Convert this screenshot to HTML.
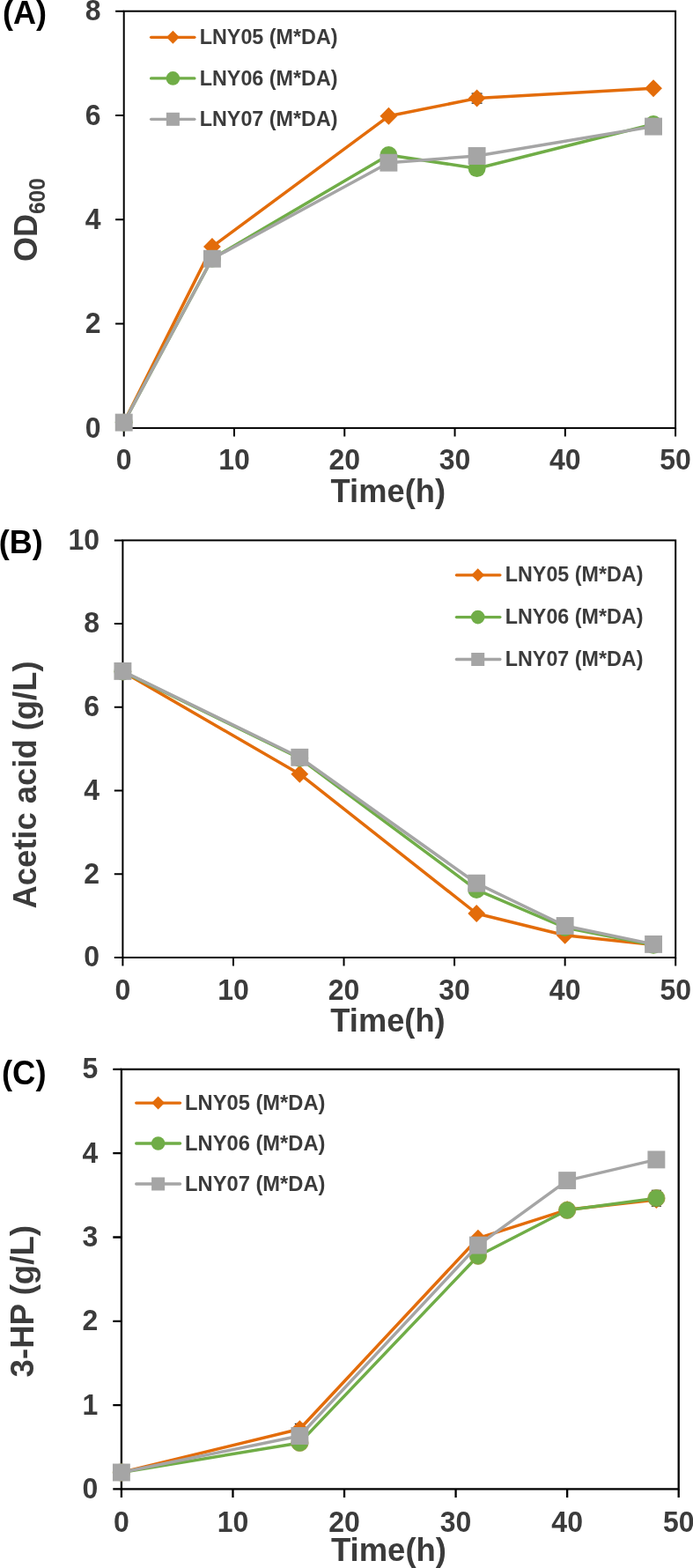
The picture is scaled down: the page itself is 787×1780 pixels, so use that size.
<!DOCTYPE html>
<html lang="en">
<head>
<meta charset="utf-8">
<title>Figure: growth, acetic acid and 3-HP</title>
<style>
html,body{margin:0;padding:0;background:#fff;}
body{width:787px;height:1780px;overflow:hidden;}
svg{display:block;}
svg text{font-family:"Liberation Sans", Arial, Helvetica, sans-serif;font-weight:700;}
</style>
</head>
<body>
<svg width="787" height="1780" viewBox="0 0 787 1780">
<rect width="787" height="1780" fill="#fff"/>
<g>
<rect x="140.70" y="12.70" width="626.40" height="473.20" fill="none" stroke="#000" stroke-width="2.0"/>
<path d="M140.70,485.90V495.50M265.98,485.90V495.50M391.26,485.90V495.50M516.54,485.90V495.50M641.82,485.90V495.50M767.10,485.90V495.50M140.70,485.90H131.10M140.70,367.60H131.10M140.70,249.30H131.10M140.70,131.00H131.10M140.70,12.70H131.10" stroke="#000" stroke-width="2.0" fill="none"/>
<path d="M535.60,106.10H547.60M535.60,117.10H547.60M541.60,106.10V117.10" stroke="#222" stroke-width="1.1" fill="none"/>
<polyline points="140.70,479.60 240.92,280.10 441.37,131.80 541.60,111.60 742.04,100.20" fill="none" stroke="#E36C0A" stroke-width="3.5" stroke-linejoin="round" stroke-linecap="round"/>
<polygon points="140.70,469.60 150.60,479.60 140.70,489.60 130.80,479.60" fill="#E36C0A"/>
<polygon points="240.92,270.10 250.82,280.10 240.92,290.10 231.02,280.10" fill="#E36C0A"/>
<polygon points="441.37,121.80 451.27,131.80 441.37,141.80 431.47,131.80" fill="#E36C0A"/>
<polygon points="541.60,101.60 551.50,111.60 541.60,121.60 531.70,111.60" fill="#E36C0A"/>
<polygon points="742.04,90.20 751.94,100.20 742.04,110.20 732.14,100.20" fill="#E36C0A"/>
<polyline points="140.70,479.60 240.92,293.70 441.37,175.90 541.60,191.20 742.04,141.00" fill="none" stroke="#70AD47" stroke-width="3.5" stroke-linejoin="round" stroke-linecap="round"/>
<circle cx="140.70" cy="479.60" r="9.90" fill="#70AD47"/>
<circle cx="240.92" cy="293.70" r="9.90" fill="#70AD47"/>
<circle cx="441.37" cy="175.90" r="9.90" fill="#70AD47"/>
<circle cx="541.60" cy="191.20" r="9.90" fill="#70AD47"/>
<circle cx="742.04" cy="141.00" r="9.90" fill="#70AD47"/>
<polyline points="140.70,479.60 240.92,293.75 441.37,184.70 541.60,177.00 742.04,143.60" fill="none" stroke="#A5A5A5" stroke-width="3.5" stroke-linejoin="round" stroke-linecap="round"/>
<rect x="130.75" y="469.65" width="19.90" height="19.90" fill="#A5A5A5"/>
<rect x="230.97" y="283.80" width="19.90" height="19.90" fill="#A5A5A5"/>
<rect x="431.42" y="174.75" width="19.90" height="19.90" fill="#A5A5A5"/>
<rect x="531.65" y="167.05" width="19.90" height="19.90" fill="#A5A5A5"/>
<rect x="732.09" y="133.65" width="19.90" height="19.90" fill="#A5A5A5"/>
<rect x="139.40" y="613.40" width="627.80" height="473.60" fill="none" stroke="#000" stroke-width="2.0"/>
<path d="M139.40,1087.00V1096.60M264.96,1087.00V1096.60M390.52,1087.00V1096.60M516.08,1087.00V1096.60M641.64,1087.00V1096.60M767.20,1087.00V1096.60M139.40,1087.00H129.80M139.40,992.28H129.80M139.40,897.56H129.80M139.40,802.84H129.80M139.40,708.12H129.80M139.40,613.40H129.80" stroke="#000" stroke-width="2.0" fill="none"/>
<polyline points="139.40,762.40 340.30,878.70 541.19,1037.00 641.64,1061.80 742.09,1072.60" fill="none" stroke="#E36C0A" stroke-width="3.5" stroke-linejoin="round" stroke-linecap="round"/>
<polygon points="139.40,752.40 149.30,762.40 139.40,772.40 129.50,762.40" fill="#E36C0A"/>
<polygon points="340.30,868.70 350.20,878.70 340.30,888.70 330.40,878.70" fill="#E36C0A"/>
<polygon points="541.19,1027.00 551.09,1037.00 541.19,1047.00 531.29,1037.00" fill="#E36C0A"/>
<polygon points="641.64,1051.80 651.54,1061.80 641.64,1071.80 631.74,1061.80" fill="#E36C0A"/>
<polygon points="742.09,1062.60 751.99,1072.60 742.09,1082.60 732.19,1072.60" fill="#E36C0A"/>
<polyline points="139.40,762.40 340.30,860.80 541.19,1010.10 641.64,1053.00 742.09,1072.90" fill="none" stroke="#70AD47" stroke-width="3.5" stroke-linejoin="round" stroke-linecap="round"/>
<circle cx="139.40" cy="762.40" r="9.90" fill="#70AD47"/>
<circle cx="340.30" cy="860.80" r="9.90" fill="#70AD47"/>
<circle cx="541.19" cy="1010.10" r="9.90" fill="#70AD47"/>
<circle cx="641.64" cy="1053.00" r="9.90" fill="#70AD47"/>
<circle cx="742.09" cy="1072.90" r="9.90" fill="#70AD47"/>
<polyline points="139.40,761.90 340.30,859.80 541.19,1002.70 641.64,1051.00 742.09,1071.90" fill="none" stroke="#A5A5A5" stroke-width="3.5" stroke-linejoin="round" stroke-linecap="round"/>
<rect x="129.45" y="751.95" width="19.90" height="19.90" fill="#A5A5A5"/>
<rect x="330.35" y="849.85" width="19.90" height="19.90" fill="#A5A5A5"/>
<rect x="531.24" y="992.75" width="19.90" height="19.90" fill="#A5A5A5"/>
<rect x="631.69" y="1041.05" width="19.90" height="19.90" fill="#A5A5A5"/>
<rect x="732.14" y="1061.95" width="19.90" height="19.90" fill="#A5A5A5"/>
<rect x="137.90" y="1213.90" width="632.80" height="476.50" fill="none" stroke="#000" stroke-width="2.3"/>
<path d="M137.90,1690.40V1700.00M264.46,1690.40V1700.00M391.02,1690.40V1700.00M517.58,1690.40V1700.00M644.14,1690.40V1700.00M770.70,1690.40V1700.00M137.90,1690.40H128.30M137.90,1595.10H128.30M137.90,1499.80H128.30M137.90,1404.50H128.30M137.90,1309.20H128.30M137.90,1213.90H128.30" stroke="#000" stroke-width="2.3" fill="none"/>
<path d="M334.80,1616.40H346.00M334.80,1628.00H346.00M340.40,1616.40V1628.00" stroke="#222" stroke-width="1.1" fill="none"/>
<polyline points="137.90,1671.50 340.40,1622.20 542.89,1405.70 644.14,1373.30 745.39,1362.00" fill="none" stroke="#E36C0A" stroke-width="3.5" stroke-linejoin="round" stroke-linecap="round"/>
<polygon points="137.90,1661.50 147.80,1671.50 137.90,1681.50 128.00,1671.50" fill="#E36C0A"/>
<polygon points="340.40,1612.20 350.30,1622.20 340.40,1632.20 330.50,1622.20" fill="#E36C0A"/>
<polygon points="542.89,1395.70 552.79,1405.70 542.89,1415.70 532.99,1405.70" fill="#E36C0A"/>
<polygon points="644.14,1363.30 654.04,1373.30 644.14,1383.30 634.24,1373.30" fill="#E36C0A"/>
<polygon points="745.39,1352.00 755.29,1362.00 745.39,1372.00 735.49,1362.00" fill="#E36C0A"/>
<path d="M739.79,1351.20H750.99M739.79,1369.20H750.99M745.39,1351.20V1369.20" stroke="#222" stroke-width="1.1" fill="none"/>
<polyline points="137.90,1671.50 340.40,1637.90 542.89,1425.70 644.14,1373.80 745.39,1360.20" fill="none" stroke="#70AD47" stroke-width="3.5" stroke-linejoin="round" stroke-linecap="round"/>
<circle cx="137.90" cy="1671.50" r="9.70" fill="#70AD47" stroke="#96963A" stroke-width="1" stroke-opacity="0.75"/>
<circle cx="340.40" cy="1637.90" r="9.70" fill="#70AD47" stroke="#96963A" stroke-width="1" stroke-opacity="0.75"/>
<circle cx="542.89" cy="1425.70" r="9.70" fill="#70AD47" stroke="#96963A" stroke-width="1" stroke-opacity="0.75"/>
<circle cx="644.14" cy="1373.80" r="9.70" fill="#70AD47" stroke="#96963A" stroke-width="1" stroke-opacity="0.75"/>
<circle cx="745.39" cy="1360.20" r="9.70" fill="#70AD47" stroke="#96963A" stroke-width="1" stroke-opacity="0.75"/>
<polyline points="137.90,1671.50 340.40,1630.00 542.89,1413.60 644.14,1340.10 745.39,1316.40" fill="none" stroke="#A5A5A5" stroke-width="3.5" stroke-linejoin="round" stroke-linecap="round"/>
<rect x="127.95" y="1661.55" width="19.90" height="19.90" fill="#A5A5A5"/>
<rect x="330.45" y="1620.05" width="19.90" height="19.90" fill="#A5A5A5"/>
<rect x="532.94" y="1403.65" width="19.90" height="19.90" fill="#A5A5A5"/>
<rect x="634.19" y="1330.15" width="19.90" height="19.90" fill="#A5A5A5"/>
<rect x="735.44" y="1306.45" width="19.90" height="19.90" fill="#A5A5A5"/>
</g>
<g>
<text transform="translate(140.70,533.40) scale(1,1.015)" font-size="32" text-anchor="middle" fill="#3b3b3b">0</text>
<text transform="translate(265.98,533.40) scale(1,1.015)" font-size="32" text-anchor="middle" fill="#3b3b3b">10</text>
<text transform="translate(391.26,533.40) scale(1,1.015)" font-size="32" text-anchor="middle" fill="#3b3b3b">20</text>
<text transform="translate(516.54,533.40) scale(1,1.015)" font-size="32" text-anchor="middle" fill="#3b3b3b">30</text>
<text transform="translate(641.82,533.40) scale(1,1.015)" font-size="32" text-anchor="middle" fill="#3b3b3b">40</text>
<text transform="translate(767.10,533.40) scale(1,1.015)" font-size="32" text-anchor="middle" fill="#3b3b3b">50</text>
<text transform="translate(114.60,496.50) scale(1,1.015)" font-size="32" text-anchor="end" fill="#3b3b3b">0</text>
<text transform="translate(114.60,378.20) scale(1,1.015)" font-size="32" text-anchor="end" fill="#3b3b3b">2</text>
<text transform="translate(114.60,259.90) scale(1,1.015)" font-size="32" text-anchor="end" fill="#3b3b3b">4</text>
<text transform="translate(114.60,141.60) scale(1,1.015)" font-size="32" text-anchor="end" fill="#3b3b3b">6</text>
<text transform="translate(114.60,23.30) scale(1,1.015)" font-size="32" text-anchor="end" fill="#3b3b3b">8</text>
<text transform="translate(139.40,1134.50) scale(1,1.015)" font-size="32" text-anchor="middle" fill="#3b3b3b">0</text>
<text transform="translate(264.96,1134.50) scale(1,1.015)" font-size="32" text-anchor="middle" fill="#3b3b3b">10</text>
<text transform="translate(390.52,1134.50) scale(1,1.015)" font-size="32" text-anchor="middle" fill="#3b3b3b">20</text>
<text transform="translate(516.08,1134.50) scale(1,1.015)" font-size="32" text-anchor="middle" fill="#3b3b3b">30</text>
<text transform="translate(641.64,1134.50) scale(1,1.015)" font-size="32" text-anchor="middle" fill="#3b3b3b">40</text>
<text transform="translate(767.20,1134.50) scale(1,1.015)" font-size="32" text-anchor="middle" fill="#3b3b3b">50</text>
<text transform="translate(113.00,1097.30) scale(1,1.015)" font-size="32" text-anchor="end" fill="#3b3b3b">0</text>
<text transform="translate(113.00,1002.58) scale(1,1.015)" font-size="32" text-anchor="end" fill="#3b3b3b">2</text>
<text transform="translate(113.00,907.86) scale(1,1.015)" font-size="32" text-anchor="end" fill="#3b3b3b">4</text>
<text transform="translate(113.00,813.14) scale(1,1.015)" font-size="32" text-anchor="end" fill="#3b3b3b">6</text>
<text transform="translate(113.00,718.42) scale(1,1.015)" font-size="32" text-anchor="end" fill="#3b3b3b">8</text>
<text transform="translate(113.00,623.70) scale(1,1.015)" font-size="32" text-anchor="end" fill="#3b3b3b">10</text>
<text transform="translate(137.90,1738.60) scale(1,1.015)" font-size="32" text-anchor="middle" fill="#3b3b3b">0</text>
<text transform="translate(264.46,1738.60) scale(1,1.015)" font-size="32" text-anchor="middle" fill="#3b3b3b">10</text>
<text transform="translate(391.02,1738.60) scale(1,1.015)" font-size="32" text-anchor="middle" fill="#3b3b3b">20</text>
<text transform="translate(517.58,1738.60) scale(1,1.015)" font-size="32" text-anchor="middle" fill="#3b3b3b">30</text>
<text transform="translate(644.14,1738.60) scale(1,1.015)" font-size="32" text-anchor="middle" fill="#3b3b3b">40</text>
<text transform="translate(770.70,1738.60) scale(1,1.015)" font-size="32" text-anchor="middle" fill="#3b3b3b">50</text>
<text transform="translate(111.20,1700.90) scale(1,1.015)" font-size="32" text-anchor="end" fill="#3b3b3b">0</text>
<text transform="translate(111.20,1605.60) scale(1,1.015)" font-size="32" text-anchor="end" fill="#3b3b3b">1</text>
<text transform="translate(111.20,1510.30) scale(1,1.015)" font-size="32" text-anchor="end" fill="#3b3b3b">2</text>
<text transform="translate(111.20,1415.00) scale(1,1.015)" font-size="32" text-anchor="end" fill="#3b3b3b">3</text>
<text transform="translate(111.20,1319.70) scale(1,1.015)" font-size="32" text-anchor="end" fill="#3b3b3b">4</text>
<text transform="translate(111.20,1224.40) scale(1,1.015)" font-size="32" text-anchor="end" fill="#3b3b3b">5</text>
<text transform="translate(3.00,26.60) scale(1,1.05)" font-size="36" text-anchor="start" fill="#000">(A)</text>
<text transform="translate(-1.20,627.60) scale(1,1.05)" font-size="36" text-anchor="start" fill="#000">(B)</text>
<text transform="translate(2.00,1230.60) scale(1,1.05)" font-size="36.4" text-anchor="start" fill="#000">(C)</text>
<text transform="translate(375.60,569.70) scale(1,1.015)" font-size="36.3" text-anchor="start" fill="#3b3b3b">Time(h)</text>
<text transform="translate(375.30,1170.90) scale(1,1.015)" font-size="36.3" text-anchor="start" fill="#3b3b3b">Time(h)</text>
<text transform="translate(375.90,1771.90) scale(1,1.015)" font-size="36.5" text-anchor="start" fill="#3b3b3b">Time(h)</text>
<text transform="translate(41.9,297.0) rotate(-90) scale(1,1.015)" font-size="36" fill="#3b3b3b">OD<tspan font-size="24.5" dy="9">600</tspan></text>
<text transform="translate(41.0,1031.5) rotate(-90) scale(1,1.015)" font-size="36.4" fill="#3b3b3b">Acetic acid (g/L)</text>
<text transform="translate(37.9,1563.5) rotate(-90) scale(1,1.015)" font-size="36.7" fill="#3b3b3b">3-HP (g/L)</text>
<line x1="171.60" y1="42.30" x2="220.90" y2="42.30" stroke="#E36C0A" stroke-width="3.3" stroke-linecap="round"/>
<polygon points="196.40,34.80 203.80,42.30 196.40,49.80 189.00,42.30" fill="#E36C0A"/>
<text transform="translate(226.70,49.90) scale(1,1.015)" font-size="23.35" text-anchor="start" fill="#3b3b3b">LNY05 (M*DA)</text>
<line x1="171.60" y1="88.90" x2="220.90" y2="88.90" stroke="#70AD47" stroke-width="3.3" stroke-linecap="round"/>
<circle cx="196.40" cy="88.90" r="7.8" fill="#70AD47"/>
<text transform="translate(226.70,96.50) scale(1,1.015)" font-size="23.35" text-anchor="start" fill="#3b3b3b">LNY06 (M*DA)</text>
<line x1="171.60" y1="135.30" x2="220.90" y2="135.30" stroke="#A5A5A5" stroke-width="3.3" stroke-linecap="round"/>
<rect x="188.90" y="127.80" width="15" height="15" fill="#A5A5A5"/>
<text transform="translate(226.70,142.90) scale(1,1.015)" font-size="23.35" text-anchor="start" fill="#3b3b3b">LNY07 (M*DA)</text>
<line x1="518.40" y1="652.80" x2="567.90" y2="652.80" stroke="#E36C0A" stroke-width="3.3" stroke-linecap="round"/>
<polygon points="542.70,645.30 550.10,652.80 542.70,660.30 535.30,652.80" fill="#E36C0A"/>
<text transform="translate(573.80,660.40) scale(1,1.015)" font-size="23.3" text-anchor="start" fill="#3b3b3b">LNY05 (M*DA)</text>
<line x1="518.40" y1="700.60" x2="567.90" y2="700.60" stroke="#70AD47" stroke-width="3.3" stroke-linecap="round"/>
<circle cx="542.70" cy="700.60" r="7.8" fill="#70AD47"/>
<text transform="translate(573.80,708.20) scale(1,1.015)" font-size="23.3" text-anchor="start" fill="#3b3b3b">LNY06 (M*DA)</text>
<line x1="518.40" y1="748.50" x2="567.90" y2="748.50" stroke="#A5A5A5" stroke-width="3.3" stroke-linecap="round"/>
<rect x="535.20" y="741.00" width="15" height="15" fill="#A5A5A5"/>
<text transform="translate(573.80,756.10) scale(1,1.015)" font-size="23.3" text-anchor="start" fill="#3b3b3b">LNY07 (M*DA)</text>
<line x1="154.70" y1="1252.10" x2="204.60" y2="1252.10" stroke="#E36C0A" stroke-width="3.3" stroke-linecap="round"/>
<polygon points="179.60,1244.60 187.00,1252.10 179.60,1259.60 172.20,1252.10" fill="#E36C0A"/>
<text transform="translate(210.00,1259.70) scale(1,1.015)" font-size="23.75" text-anchor="start" fill="#3b3b3b">LNY05 (M*DA)</text>
<line x1="154.70" y1="1298.00" x2="204.60" y2="1298.00" stroke="#70AD47" stroke-width="3.3" stroke-linecap="round"/>
<circle cx="179.60" cy="1298.00" r="7.8" fill="#70AD47"/>
<text transform="translate(210.00,1305.60) scale(1,1.015)" font-size="23.75" text-anchor="start" fill="#3b3b3b">LNY06 (M*DA)</text>
<line x1="154.70" y1="1344.00" x2="204.60" y2="1344.00" stroke="#A5A5A5" stroke-width="3.3" stroke-linecap="round"/>
<rect x="172.10" y="1336.50" width="15" height="15" fill="#A5A5A5"/>
<text transform="translate(210.00,1351.60) scale(1,1.015)" font-size="23.75" text-anchor="start" fill="#3b3b3b">LNY07 (M*DA)</text>
</g>
</svg>
</body>
</html>
